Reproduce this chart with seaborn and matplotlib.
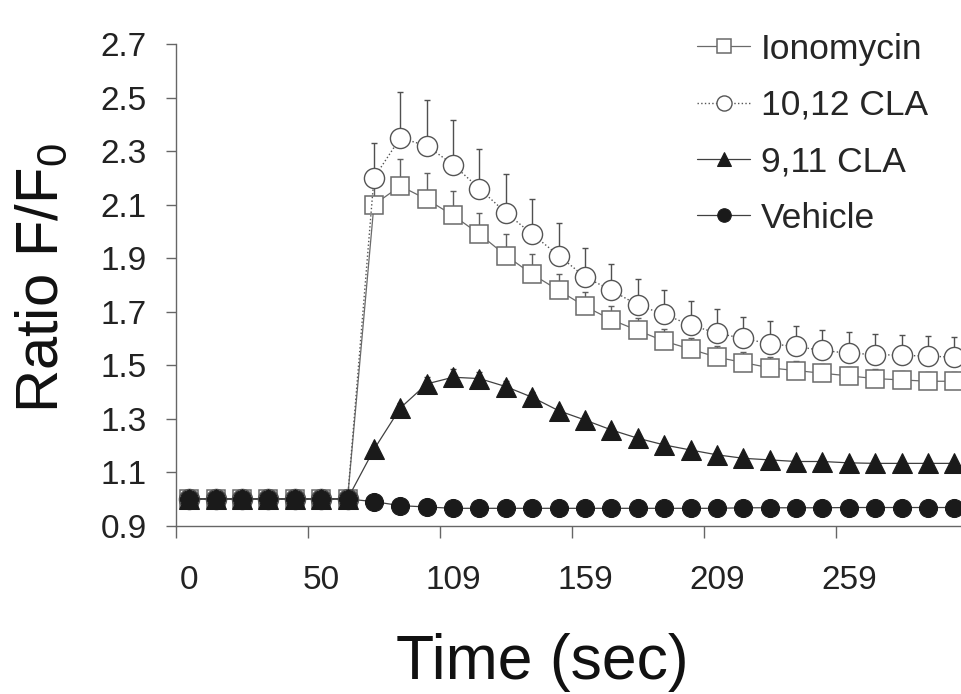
import numpy as np
import pandas as pd
import matplotlib
matplotlib.use("Agg")
import matplotlib.pyplot as plt
import seaborn as sns

# time points (category positions) and the time labels shown on the axis
n_points = 30
label_pos = [0, 5, 10, 15, 20, 25]
time_labels = ["0", "50", "109", "159", "209", "259"]

ionomycin = [1.00, 1.00, 1.00, 1.00, 1.00, 1.00, 1.00, 2.10, 2.17, 2.12,
             2.06, 1.99, 1.91, 1.84, 1.78, 1.72, 1.67, 1.63, 1.59, 1.56,
             1.53, 1.51, 1.49, 1.48, 1.47, 1.46, 1.45, 1.445, 1.44, 1.44]
ionomycin_err = [0.01, 0.01, 0.01, 0.01, 0.01, 0.01, 0.01, 0.09, 0.10, 0.10,
                 0.09, 0.08, 0.08, 0.075, 0.06, 0.055, 0.05, 0.045, 0.045, 0.04,
                 0.04, 0.04, 0.04, 0.035, 0.035, 0.035, 0.035, 0.035, 0.035, 0.035]

cla_1012 = [1.00, 1.00, 1.00, 1.00, 1.00, 1.00, 1.00, 2.20, 2.35, 2.32,
            2.25, 2.16, 2.07, 1.99, 1.91, 1.83, 1.78, 1.725, 1.69, 1.65,
            1.62, 1.60, 1.58, 1.57, 1.555, 1.545, 1.54, 1.537, 1.534, 1.53]
cla_1012_err = [0.01, 0.01, 0.01, 0.01, 0.01, 0.01, 0.01, 0.13, 0.17, 0.17,
                0.167, 0.15, 0.143, 0.13, 0.12, 0.11, 0.10, 0.097, 0.093, 0.091,
                0.09, 0.081, 0.084, 0.075, 0.078, 0.08, 0.077, 0.075, 0.075, 0.075]

cla_911 = [1.00, 1.00, 1.00, 1.00, 1.00, 1.00, 1.00, 1.185, 1.34, 1.43,
           1.455, 1.45, 1.42, 1.38, 1.33, 1.295, 1.258, 1.227, 1.202, 1.183,
           1.165, 1.152, 1.146, 1.14, 1.14, 1.135, 1.133, 1.133, 1.133, 1.133]
cla_911_err = [0.01, 0.01, 0.01, 0.01, 0.01, 0.01, 0.01, 0.015, 0.02, 0.025,
               0.03, 0.025, 0.02, 0.02, 0.015, 0.015, 0.015, 0.01, 0.01, 0.01,
               0.01, 0.01, 0.01, 0.01, 0.01, 0.01, 0.01, 0.01, 0.01, 0.01]

vehicle = [1.00, 1.00, 1.00, 1.00, 1.00, 1.00, 1.00, 0.99, 0.975, 0.97,
           0.965, 0.965, 0.965, 0.965, 0.965, 0.965, 0.965, 0.965, 0.965, 0.965,
           0.965, 0.967, 0.967, 0.967, 0.967, 0.968, 0.968, 0.968, 0.968, 0.968]

x = np.arange(n_points)

sns.set_style("white")
plt.rcParams["font.family"] = ["Liberation Sans", "DejaVu Sans"]

fig = plt.figure(figsize=(9.61, 6.94), dpi=100)
ax = fig.add_axes([0.1832, 0.2425, 0.8168, 0.6938])

# error bars first (one-sided, upward)
ax.errorbar(x, ionomycin, yerr=[np.zeros(n_points), ionomycin_err], fmt="none",
            ecolor="#606060", elinewidth=1.0, capsize=2.5, capthick=1.0, zorder=1)
ax.errorbar(x, cla_1012, yerr=[np.zeros(n_points), cla_1012_err], fmt="none",
            ecolor="#505050", elinewidth=1.0, capsize=2.5, capthick=1.0, zorder=1)
ax.errorbar(x, cla_911, yerr=[np.zeros(n_points), cla_911_err], fmt="none",
            ecolor="#404040", elinewidth=1.0, capsize=2.5, capthick=1.0, zorder=1)

sns.lineplot(x=x, y=ionomycin, ax=ax, label="Ionomycin", color="#6a6a6a",
             linewidth=0.9, marker="s", markersize=13.5, markerfacecolor="white",
             markeredgecolor="#6a6a6a", markeredgewidth=1.1, errorbar=None, zorder=2)
sns.lineplot(x=x, y=cla_1012, ax=ax, label="10,12 CLA", color="#555555",
             linewidth=1.0, linestyle=":", marker="o", markersize=14.5,
             markerfacecolor="white", markeredgecolor="#555555",
             markeredgewidth=1.0, errorbar=None, zorder=3)
sns.lineplot(x=x, y=cla_911, ax=ax, label="9,11 CLA", color="#404040",
             linewidth=0.9, marker="^", markersize=14, markerfacecolor="#1a1a1a",
             markeredgecolor="#1a1a1a", errorbar=None, zorder=4)
sns.lineplot(x=x, y=vehicle, ax=ax, label="Vehicle", color="#404040",
             linewidth=0.9, marker="o", markersize=13, markerfacecolor="#1a1a1a",
             markeredgecolor="#1a1a1a", errorbar=None, zorder=5)

ax.set_xlim(-0.485, 29.25)
ax.set_ylim(0.9, 2.7)

# y axis
ax.set_yticks(np.arange(0.9, 2.71, 0.2))
ax.set_yticklabels([f"{v:.1f}" for v in np.arange(0.9, 2.71, 0.2)])
ax.tick_params(axis="y", direction="out", length=7, width=1.0, color="#666666",
               pad=14, labelsize=24, labelcolor="#222222", left=True)

# x axis: tick marks between categories, labels centred on categories
ax.set_xticks([p - 0.5 for p in label_pos])
ax.set_xticklabels([])
ax.set_xticks(label_pos, minor=True)
ax.set_xticklabels(time_labels, minor=True)
ax.tick_params(axis="x", which="major", direction="out", length=8.5, width=1.0,
               color="#666666", bottom=True)
ax.tick_params(axis="x", which="minor", length=0, pad=28, labelsize=24,
               labelcolor="#222222", bottom=True)

for side in ["top", "right"]:
    ax.spines[side].set_visible(False)
for side in ["left", "bottom"]:
    ax.spines[side].set_color("#666666")
    ax.spines[side].set_linewidth(1.0)

ax.set_xlabel("Time (sec)", fontsize=45, color="#111111")
ax.xaxis.set_label_coords(0.466, -0.222)
ax.set_ylabel("Ratio F/F$_\\mathregular{0}$", fontsize=43, color="#111111")
ax.yaxis.set_label_coords(-0.135, 0.514)

ax.legend(loc="upper left", bbox_to_anchor=(0.7253, 0.953),
          bbox_transform=fig.transFigure, frameon=False, fontsize=25.5,
          markerscale=0.75, handlelength=1.5, handletextpad=0.3,
          labelspacing=0.66, borderpad=0, borderaxespad=0)

fig.savefig("out.png", dpi=100)
